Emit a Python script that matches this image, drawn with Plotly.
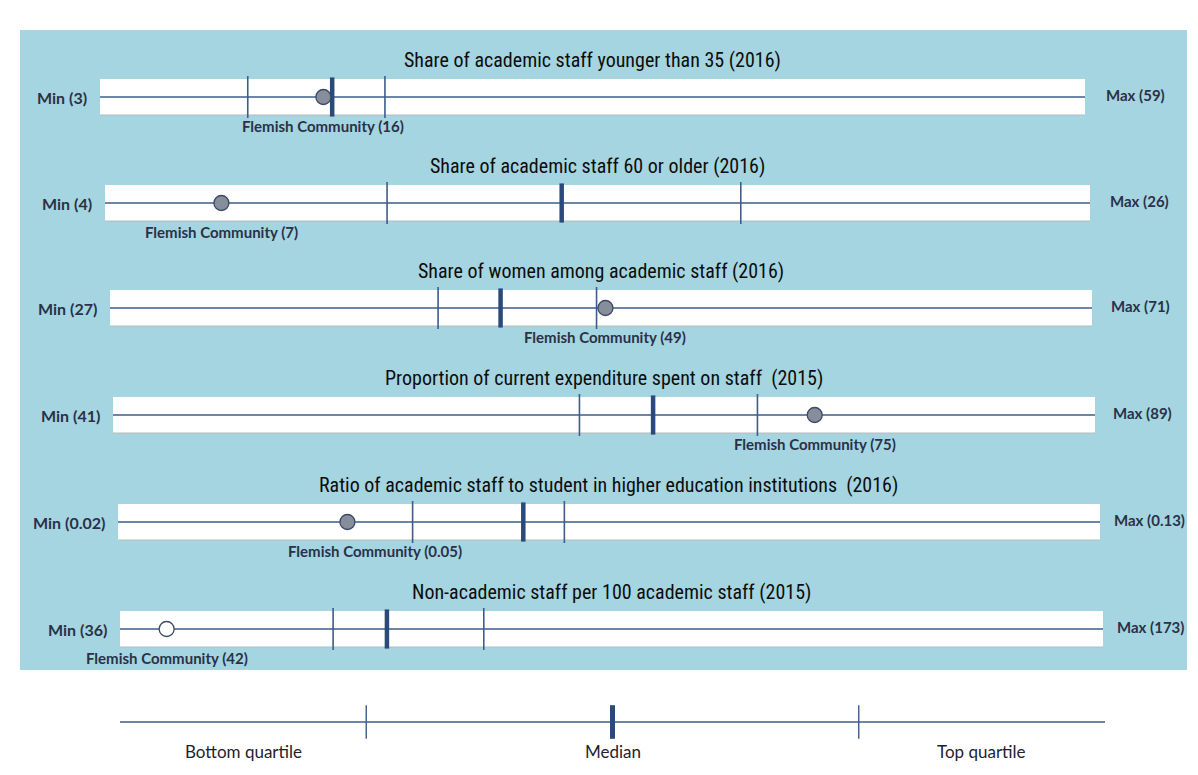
import plotly.graph_objects as go

# ---------------- data ----------------
titles = [
    "Share of academic staff younger than 35 (2016)",
    "Share of academic staff 60 or older (2016)",
    "Share of women among academic staff (2016)",
    "Proportion of current expenditure spent on staff  (2015)",
    "Ratio of academic staff to student in higher education institutions  (2016)",
    "Non-academic staff per 100 academic staff (2015)",
]
mins = [3, 4, 27, 41, 0.02, 36]
maxs = [59, 26, 71, 89, 0.13, 173]
bottom_quartile = [11.4, 10.3, 41.7, 63.8, 0.053, 65.7]
medians = [16.2, 14.2, 44.5, 67.4, 0.0654, 73.2]
top_quartile = [19.2, 18.2, 48.8, 72.5, 0.070, 86.7]
flemish = [15.7, 6.6, 49.2, 75.3, 0.0457, 42.5]
flemish_labels = [16, 7, 49, 75, 0.05, 42]
legend_labels = ["Bottom quartile", "Median", "Top quartile"]

# ---------------- layout / style ----------------
PAGE_W, PAGE_H = 1198, 775
BODY = 8                      # default page margin around the figure
W, H = PAGE_W - 2 * BODY, PAGE_H - 2 * BODY


def px(x):
    """page pixel -> paper fraction"""
    return (x - BODY) / W


row_y = [97, 203, 308, 415, 522, 629]
line_x0 = [100, 105, 110, 113, 118, 120]
line_x1 = [1085, 1090, 1092, 1095, 1100, 1103]
max_gap = [19, 18, 17, 16, 12, 12]
label_dx = [0, 0, 0, 0, 28, 0]
hollow = [False, False, False, False, False, True]
legend_y = 722
legend_x0, legend_x1 = 120, 1105

BLUE_BG = "#a5d5e0"
LINE = "#3d5c8a"
MED = "#2b4a7c"
DOT = "#878e9b"
DOT_EDGE = "#3c4a66"
TXT = "#2a3148"
TITLE_FONT = dict(family="Liberation Sans Narrow, Arial Narrow, Roboto Condensed, Liberation Sans, Arial",
                  size=20, color="#0d0d0d")
MM_FONT = dict(family="Lato, Open Sans, sans-serif", size=16, color=TXT, weight=700)
MAX_FONT = dict(family="Lato, Open Sans, sans-serif", size=15, color=TXT, weight=700)
LBL_FONT = dict(family="Lato, Open Sans, sans-serif", size=15, color=TXT, weight=700)

fig = go.Figure()
shapes = []
annotations = []

shapes.append(dict(type="rect", xref="paper", yref="y", x0=px(20), x1=px(1187), y0=30, y1=670,
                   fillcolor=BLUE_BG, line=dict(width=0), layer="below"))

layout_axes = {}
for i in range(6):
    ax = "x" if i == 0 else f"x{i + 1}"
    axname = "xaxis" if i == 0 else f"xaxis{i + 1}"
    layout_axes[axname] = dict(domain=[px(line_x0[i]), px(line_x1[i])], range=[mins[i], maxs[i]],
                               visible=False, anchor="y", fixedrange=True)
    yc = row_y[i]
    # white band
    shapes.append(dict(type="rect", xref="paper", yref="y", x0=px(line_x0[i]), x1=px(line_x1[i]),
                       y0=yc - 18, y1=yc + 18, fillcolor="white", line=dict(width=0), layer="below"))
    shapes.append(dict(type="line", xref="paper", yref="y", x0=px(line_x0[i]), x1=px(line_x1[i]),
                       y0=yc + 18, y1=yc + 18, line=dict(color="#b9bcc0", width=1.2), layer="below"))
    # min-max line
    fig.add_trace(go.Scatter(x=[mins[i], maxs[i]], y=[yc, yc], xaxis=ax, yaxis="y", mode="lines",
                             line=dict(color=LINE, width=1.6), hoverinfo="skip", showlegend=False))
    # quartiles
    fig.add_trace(go.Scatter(x=[bottom_quartile[i], top_quartile[i]], y=[yc, yc], xaxis=ax, yaxis="y",
                             mode="markers", marker=dict(symbol="line-ns", size=30,
                                                          line=dict(color=LINE, width=1.6)),
                             hoverinfo="x", showlegend=False))
    # median
    fig.add_trace(go.Scatter(x=[medians[i]], y=[yc], xaxis=ax, yaxis="y", mode="markers",
                             marker=dict(symbol="line-ns", size=28, line=dict(color=MED, width=4.5)),
                             hoverinfo="x", showlegend=False))
    # Flemish Community
    fig.add_trace(go.Scatter(x=[flemish[i]], y=[yc], xaxis=ax, yaxis="y", mode="markers",
                             marker=dict(symbol="circle", size=15,
                                         color="white" if hollow[i] else DOT,
                                         line=dict(color=DOT_EDGE, width=1.3)),
                             hoverinfo="x", showlegend=False))
    # texts
    annotations.append(dict(xref="paper", yref="y", x=px((line_x0[i] + line_x1[i]) / 2), y=yc - 37,
                            text=titles[i], showarrow=False, font=TITLE_FONT, xanchor="center",
                            yanchor="middle"))
    annotations.append(dict(xref="paper", yref="y", x=px(line_x0[i] - 11), y=yc,
                            text=f"Min ({mins[i]:g})", showarrow=False, font=MM_FONT,
                            xanchor="right", yanchor="middle"))
    annotations.append(dict(xref="paper", yref="y", x=px(line_x1[i] + max_gap[i]), y=yc - 2,
                            text=f"Max ({maxs[i]:g})", showarrow=False, font=MAX_FONT,
                            xanchor="left", yanchor="middle"))
    annotations.append(dict(xref=ax, yref="y", x=flemish[i], y=yc + 29, xshift=label_dx[i],
                            text=f"Flemish Community ({flemish_labels[i]:g})", showarrow=False,
                            font=LBL_FONT, xanchor="center", yanchor="middle"))

# legend row (scale 0..4 quartile positions)
layout_axes["xaxis7"] = dict(domain=[px(legend_x0), px(legend_x1)], range=[0, 4], visible=False,
                             anchor="y", fixedrange=True)
fig.add_trace(go.Scatter(x=[0, 4], y=[legend_y, legend_y], xaxis="x7", yaxis="y", mode="lines",
                         line=dict(color=LINE, width=1.6), hoverinfo="skip", showlegend=False))
fig.add_trace(go.Scatter(x=[1, 3], y=[legend_y, legend_y], xaxis="x7", yaxis="y", mode="markers",
                         marker=dict(symbol="line-ns", size=24, line=dict(color=LINE, width=1.4)),
                         hoverinfo="skip", showlegend=False))
fig.add_trace(go.Scatter(x=[2], y=[legend_y], xaxis="x7", yaxis="y", mode="markers",
                         marker=dict(symbol="line-ns", size=24, line=dict(color=MED, width=5)),
                         hoverinfo="skip", showlegend=False))
for pos, lab in zip([0.5, 2, 3.5], legend_labels):
    annotations.append(dict(xref="x7", yref="y", x=pos, y=legend_y + 29, text=lab, showarrow=False,
                            font=dict(family="Lato, Open Sans, sans-serif", size=17, color="#1e2230"),
                            xanchor="center", yanchor="middle"))

fig.update_layout(
    width=W, height=H,
    margin=dict(l=0, r=0, t=0, b=0),
    paper_bgcolor="white", plot_bgcolor="rgba(0,0,0,0)",
    yaxis=dict(range=[PAGE_H - BODY, BODY], visible=False, domain=[0, 1], fixedrange=True),
    shapes=shapes, annotations=annotations,
    showlegend=False,
    **layout_axes,
)

fig.write_html("out.html")
